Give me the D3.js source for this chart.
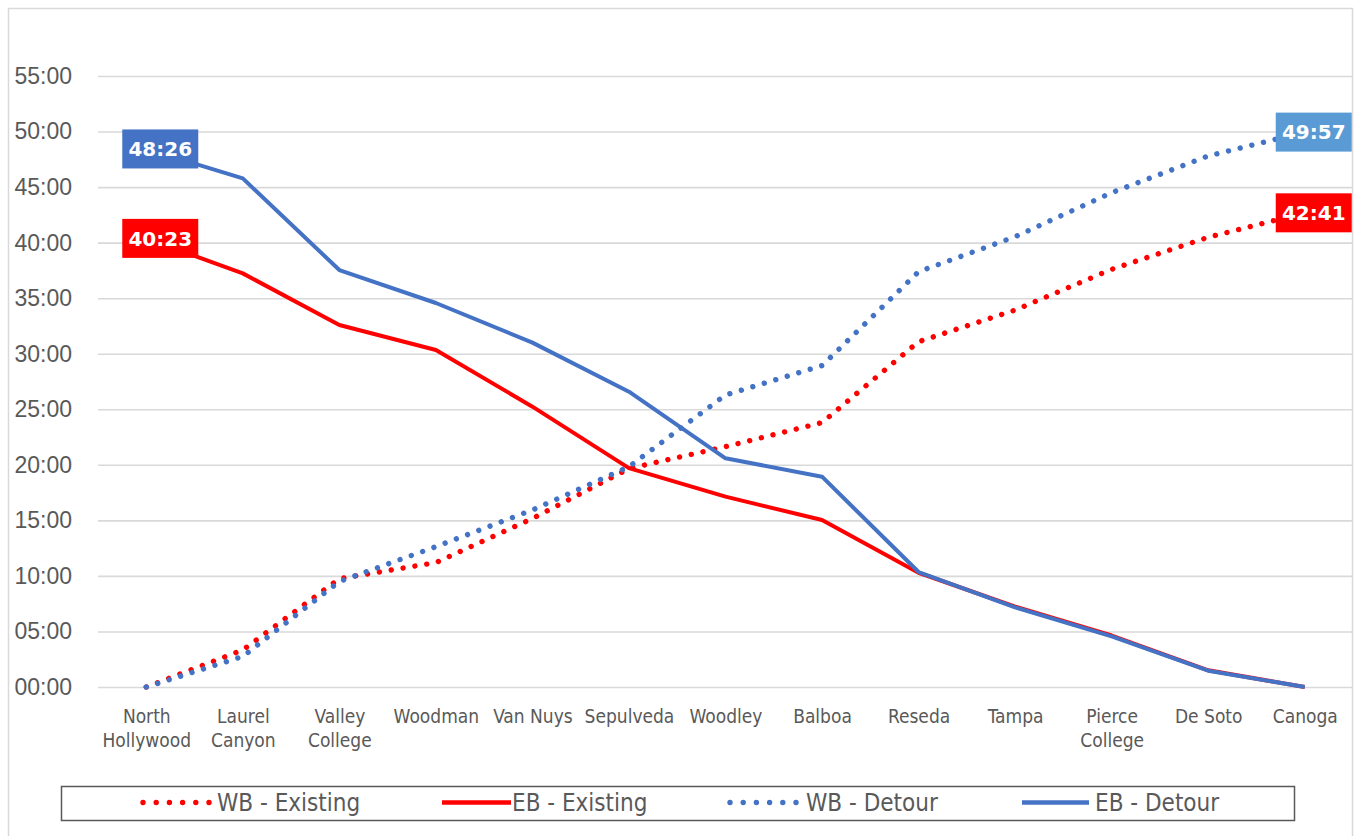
<!DOCTYPE html>
<html>
<head>
<meta charset="utf-8">
<script src="https://cdn.jsdelivr.net/npm/d3@7"></script>
<style>
  html, body { margin: 0; padding: 0; background: #fff; }
  svg { display: block; }
</style>
</head>
<body>
<svg id="chart" width="1356" height="836"></svg>
<script>
// Stops along the line, west (North Hollywood) to east (Canoga)
const stops = [
  ["North", "Hollywood"], ["Laurel", "Canyon"], ["Valley", "College"], ["Woodman"],
  ["Van Nuys"], ["Sepulveda"], ["Woodley"], ["Balboa"], ["Reseda"], ["Tampa"],
  ["Pierce", "College"], ["De Soto"], ["Canoga"]
];

// Cumulative running time at each stop (mm:ss)
const wbExisting = ["00:00", "03:20", "09:45", "11:12", "15:10", "19:40", "21:38", "23:48", "31:05", "33:56", "37:36", "40:29", "42:41"];
const ebExisting = ["40:23", "37:14", "32:35", "30:20", "25:14", "19:42", "17:08", "15:02", "10:17", "07:14", "04:38", "01:30", "00:00"];
const wbDetour   = ["00:00", "02:45", "09:30", "12:38", "15:56", "19:50", "26:17", "28:56", "37:23", "40:32", "44:30", "47:48", "49:57"];
const ebDetour   = ["48:26", "45:47", "37:32", "34:34", "31:00", "26:35", "20:35", "18:56", "10:21", "07:10", "04:33", "01:28", "00:00"];

// Y axis ticks, in minutes
const yTicks = [0, 5, 10, 15, 20, 25, 30, 35, 40, 45, 50, 55];

const seriesNames = ["WB - Existing", "EB - Existing", "WB - Detour", "EB - Detour"];

const toMin = s => { const [m, sec] = s.split(":").map(Number); return m + sec / 60; };
const pad = n => String(n).padStart(2, "0");

const RED = "#ff0000", BLUE = "#4472c4", LIGHTBLUE = "#5b9bd5";
const GREY_TEXT = "#595959";
const NARROW = "'DejaVu Sans Condensed', 'Liberation Sans', sans-serif";

const series = [
  { name: seriesNames[0], values: wbExisting, color: RED,  dotted: true },
  { name: seriesNames[1], values: ebExisting, color: RED,  dotted: false },
  { name: seriesNames[2], values: wbDetour,   color: BLUE, dotted: true },
  { name: seriesNames[3], values: ebDetour,   color: BLUE, dotted: false }
];

const svg = d3.select("#chart");
const plot = { left: 98, right: 1353, top: 76, bottom: 687 };

// Chart frame
svg.append("rect")
  .attr("x", 8.5).attr("y", 8.5).attr("width", 1344).attr("height", 900)
  .attr("fill", "#fff").attr("stroke", "#d9d9d9").attr("stroke-width", 1.5);

const x = d3.scalePoint()
  .domain(stops.map(d => d.join(" ")))
  .range([plot.left, plot.right])
  .padding(0.5);

const y = d3.scaleLinear().domain([0, 55]).range([plot.bottom, plot.top]);

// Y axis with horizontal gridlines
const yAxis = svg.append("g")
  .attr("transform", `translate(${plot.left},0)`)
  .call(d3.axisLeft(y)
    .tickValues(yTicks)
    .tickFormat(m => pad(m) + ":00")
    .tickSize(-(plot.right - plot.left))
    .tickPadding(26));
yAxis.select(".domain").remove();
yAxis.selectAll(".tick line").attr("stroke", "#d9d9d9").attr("stroke-width", 1.6);
yAxis.selectAll(".tick text")
  .attr("fill", GREY_TEXT)
  .attr("font-family", "'Liberation Sans', Arial, sans-serif")
  .attr("font-size", 23);

// X axis: stop names, wrapped onto two lines where needed
const xAxis = svg.append("g")
  .attr("transform", `translate(0,${plot.bottom})`)
  .call(d3.axisBottom(x).tickSize(0).tickFormat(""));
xAxis.select(".domain").remove();
xAxis.selectAll(".tick").each(function (d, i) {
  const t = d3.select(this).append("text")
    .attr("fill", GREY_TEXT)
    .attr("font-family", NARROW)
    .attr("font-size", 19)
    .attr("text-anchor", "middle");
  stops[i].forEach((line, k) => {
    t.append("tspan").attr("x", 0).attr("y", 36 + k * 24).text(line);
  });
});

// Series lines
const line = d3.line()
  .x((d, i) => x(stops[i].join(" ")))
  .y(d => y(toMin(d)));

series.forEach(s => {
  const p = svg.append("path")
    .datum(s.values)
    .attr("fill", "none")
    .attr("stroke", s.color)
    .attr("d", line);
  if (s.dotted) {
    p.attr("stroke-width", 5.4)
     .attr("stroke-linecap", "round")
     .attr("stroke-dasharray", "0.01 11.99");
  } else {
    p.attr("stroke-width", 4)
     .attr("stroke-linejoin", "round");
  }
});

// Value labels at the start of each trip
const labels = [
  { values: ebDetour,   idx: 0,  fill: BLUE,      dx: 14 },
  { values: ebExisting, idx: 0,  fill: RED,       dx: 14 },
  { values: wbDetour,   idx: 12, fill: LIGHTBLUE, dx: 9 },
  { values: wbExisting, idx: 12, fill: RED,       dx: 9 }
];
const boxW = 76, boxH = 39;
labels.forEach(l => {
  const v = l.values[l.idx];
  const cx = x(stops[l.idx].join(" ")) + l.dx;
  const cy = y(toMin(v));
  const g = svg.append("g").attr("transform", `translate(${cx},${cy})`);
  g.append("rect")
    .attr("x", -boxW / 2).attr("y", -boxH / 2)
    .attr("width", boxW).attr("height", boxH)
    .attr("fill", l.fill);
  g.append("text")
    .attr("text-anchor", "middle")
    .attr("dy", "0.36em")
    .attr("fill", "#fff")
    .attr("font-family", "'DejaVu Sans', sans-serif")
    .attr("font-weight", "bold")
    .attr("font-size", 20)
    .text(v);
});

// Legend
const legend = svg.append("g");
legend.append("rect")
  .attr("x", 61.5).attr("y", 786.5).attr("width", 1233).attr("height", 34)
  .attr("fill", "#fff").attr("stroke", GREY_TEXT).attr("stroke-width", 1.5);

const legendItems = [
  { s: series[0], x0: 143, x1: 209, tx: 217 },
  { s: series[1], x0: 442, x1: 511, tx: 512 },
  { s: series[2], x0: 730, x1: 799, tx: 806 },
  { s: series[3], x0: 1022, x1: 1089, tx: 1095 }
];
const ly = 802.5;
legendItems.forEach(it => {
  const sample = legend.append("line")
    .attr("x1", it.x0).attr("x2", it.x1)
    .attr("y1", ly).attr("y2", ly)
    .attr("stroke", it.s.color);
  if (it.s.dotted) {
    sample.attr("stroke-width", 5.4)
      .attr("stroke-linecap", "round")
      .attr("stroke-dasharray", "0.01 13.19");
  } else {
    sample.attr("stroke-width", 4.5);
  }
  legend.append("text")
    .attr("x", it.tx).attr("y", ly)
    .attr("dy", "0.36em")
    .attr("fill", GREY_TEXT)
    .attr("font-family", NARROW)
    .attr("font-size", 24)
    .text(it.s.name);
});
</script>
</body>
</html>
